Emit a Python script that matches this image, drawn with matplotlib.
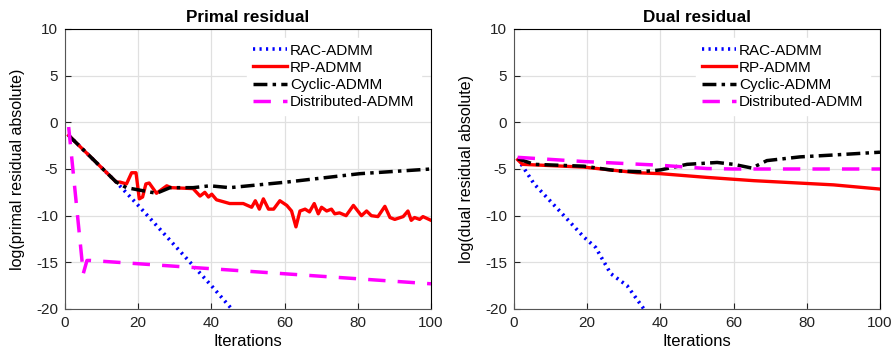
import numpy as np
import matplotlib
matplotlib.use('Agg')
import matplotlib.pyplot as plt

plt.rcParams['font.family'] = ['Liberation Sans', 'DejaVu Sans']
plt.rcParams['axes.unicode_minus'] = False

labels = ['RAC-ADMM', 'RP-ADMM', 'Cyclic-ADMM', 'Distributed-ADMM']

# primal residual
p_rac_x = [1, 14, 20, 30, 40, 46]
p_rac_y = [-1.4, -6.4, -8.9, -13.2, -17.5, -20.2]

p_rp_x = [1, 14, 15, 16.8, 18.2, 19.4, 20.3, 21.2, 22.1, 23, 25, 27.8, 29, 35, 36.9, 38.2, 39.2,
          40.1, 41.4, 45, 48.7, 51, 52, 53.1, 54.2, 55.6, 57, 58.7, 60.6, 61.9, 63.1, 64.2, 65.6,
          66.8, 68.1, 69.2, 70.1, 71.5, 72.8, 73.7, 75, 76.8, 78.8, 81, 82.4, 83.7, 85.5, 87.4,
          88.8, 90.1, 92.4, 93.7, 94.6, 95.5, 96.9, 97.8, 100]
p_rp_y = [-1.4, -6.4, -6.4, -6.6, -5.4, -5.4, -8.2, -8.0, -6.6, -6.5, -7.6, -6.8, -7.0, -7.1, -7.9, -7.5, -8.0,
          -7.7, -8.3, -8.7, -8.7, -9.1, -8.4, -9.3, -8.2, -9.3, -9.3, -8.4, -8.9, -9.5, -11.2, -9.5, -9.3,
          -9.6, -8.7, -9.8, -9.1, -9.5, -9.3, -9.8, -9.7, -10.0, -8.9, -10.0, -9.5, -10.0, -10.1, -9.0,
          -10.2, -10.4, -10.1, -9.5, -10.5, -10.2, -10.4, -10.1, -10.5]

p_cyc_x = [1, 14, 16.8, 25, 28.7, 35, 39.6, 45, 60.6, 80.6, 100]
p_cyc_y = [-1.4, -6.4, -7.0, -7.6, -7.0, -7.0, -6.8, -7.0, -6.4, -5.5, -5.0]

p_dist_x = [1, 5, 6, 7, 100]
p_dist_y = [-0.5, -16.2, -14.8, -14.8, -17.3]

# dual residual
d_rac_x = [1, 5.5, 12.7, 19.1, 22.3, 26.4, 30.9, 35.5, 36]
d_rac_y = [-3.9, -6.6, -9.6, -12.3, -13.4, -16.2, -17.5, -20.0, -20.3]

d_rp_x = [1, 2.3, 19.1, 33.6, 40, 52.7, 65.5, 87.3, 100]
d_rp_y = [-4.0, -4.5, -4.8, -5.4, -5.5, -5.9, -6.25, -6.7, -7.15]

d_cyc_x = [1, 5.5, 19.1, 28.2, 34.5, 40, 47.3, 55.5, 60, 65, 69.1, 78.2, 87.3, 100]
d_cyc_y = [-3.9, -4.5, -4.7, -5.2, -5.3, -5.1, -4.5, -4.3, -4.5, -4.9, -4.1, -3.7, -3.5, -3.2]

d_dist_x = [1, 19.1, 40, 52.7, 60, 100]
d_dist_y = [-3.75, -4.2, -4.6, -4.95, -5.0, -5.0]

fig = plt.figure(figsize=(8.94, 3.58), dpi=100)
ax1 = fig.add_axes([65/894, 1-309/358, 366/894, 280/358])
ax2 = fig.add_axes([514/894, 1-309/358, 366/894, 280/358])

def draw(ax, rac, rp, cyc, dist, title, ylabel):
    ax.plot(rac[0], rac[1], color='blue', ls=(0, (0.6, 1.2)), lw=2.6, label=labels[0])
    ax.plot(rp[0], rp[1], color='red', ls='-', lw=2.4, label=labels[1])
    ax.plot(cyc[0], cyc[1], color='black', ls=(0, (4, 1.5, 1, 1.5)), lw=2.5, label=labels[2])
    ax.plot(dist[0], dist[1], color='magenta', ls=(0, (5, 3.5)), lw=2.5, label=labels[3])
    ax.set_xlim(0, 100)
    ax.set_ylim(-20, 10)
    ax.set_xticks(np.arange(0, 101, 20))
    ax.set_yticks(np.arange(-20, 11, 5))
    ax.grid(True, color='#e0e0e0', lw=0.9)
    ax.set_axisbelow(True)
    ax.tick_params(direction='in', labelsize=11, length=4, pad=5, colors='#222222')
    for s in ['left', 'bottom']:
        ax.spines[s].set_color('#555555')
    for s in ['top', 'right']:
        ax.spines[s].set_color('black')
    ax.set_title(title, fontsize=12.3, fontweight='bold', pad=5)
    ax.set_xlabel('Iterations', fontsize=12, labelpad=3)
    ax.set_ylabel(ylabel, fontsize=11.5, labelpad=8)
    leg = ax.legend(loc='upper right', fontsize=11, frameon=True, fancybox=False,
                    handlelength=2.2, handletextpad=0.2, labelspacing=0.2,
                    borderaxespad=0.2, bbox_to_anchor=(0.98, 0.98))
    leg.get_frame().set_edgecolor('white')
    leg.get_frame().set_alpha(1)

draw(ax1, (p_rac_x, p_rac_y), (p_rp_x, p_rp_y), (p_cyc_x, p_cyc_y), (p_dist_x, p_dist_y),
     'Primal residual', 'log(primal residual absolute)')
draw(ax2, (d_rac_x, d_rac_y), (d_rp_x, d_rp_y), (d_cyc_x, d_cyc_y), (d_dist_x, d_dist_y),
     'Dual residual', 'log(dual residual absolute)')

fig.savefig('out.png', dpi=100)
